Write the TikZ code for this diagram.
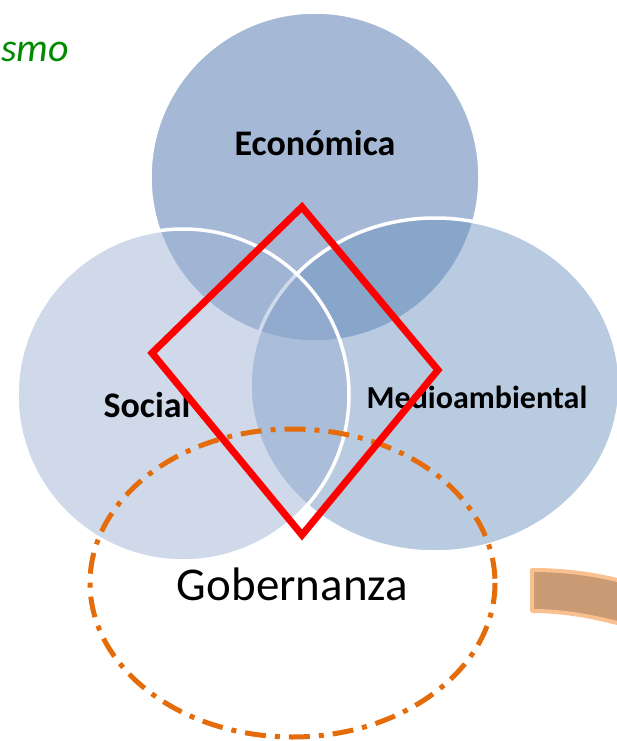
\documentclass[tikz,border=0pt]{standalone}
\usepackage{fontspec}
\setmainfont{Carlito}
\definecolor{econ}{RGB}{165,185,214}
\definecolor{medio}{RGB}{103,142,190}
\definecolor{soc}{RGB}{155,176,211}
\definecolor{gobline}{RGB}{228,108,10}
\definecolor{flecha}{RGB}{201,154,116}
\definecolor{flechaborde}{RGB}{250,192,143}
\definecolor{verde}{RGB}{0,138,0}
\begin{document}
\begin{tikzpicture}[x=1pt,y=-1pt,
    circulo/.style={draw=white,line width=3.5pt},
    etiqueta/.style={font=\bfseries,inner sep=0pt,anchor=base}]
            \useasboundingbox (0,0) rectangle (617,741);

            \node[inner sep=0pt,anchor=base west,text=verde,font=\itshape\fontsize{40}{44}\selectfont] (titulo) at (1,62) {smo};

            \draw[circulo,fill=econ] (315,177) circle (165);
            \draw[circulo,fill=medio,fill opacity=0.46] (435,385) ellipse (185 and 167);
            \draw[circulo,fill=soc,fill opacity=0.48] (183,395) circle (166);

            \node[etiqueta,font=\bfseries\fontsize{36}{40}\selectfont] (economica) at (315,155) {Económica};
            \node[etiqueta,font=\bfseries\fontsize{36}{40}\selectfont] (social) at (147,417) {Social};
            \node[etiqueta,font=\bfseries\fontsize{32}{36}\selectfont] (medio) at (477,408) {Medioambiental};

            \draw[gobline,line width=5pt,dash pattern=on 21pt off 9pt on 5pt off 9pt] (292.5,583) ellipse (202.5 and 154);
            \node[inner sep=0pt,anchor=base,font=\fontsize{47}{52}\selectfont] (gobernanza) at (292.5,600) {Gobernanza};

            \draw[red,line width=7pt,line join=miter] (302,207) -- (438,370) -- (302,535) -- (152,353) -- cycle;

            \draw[flechaborde,line width=4pt,fill=flecha,line join=round]
                (532,570) .. controls (565,570) and (595,574) .. (625,582)
                -- (625,625) .. controls (595,617) and (565,611) .. (532,611) -- cycle;
        \end{tikzpicture}
\end{document}
